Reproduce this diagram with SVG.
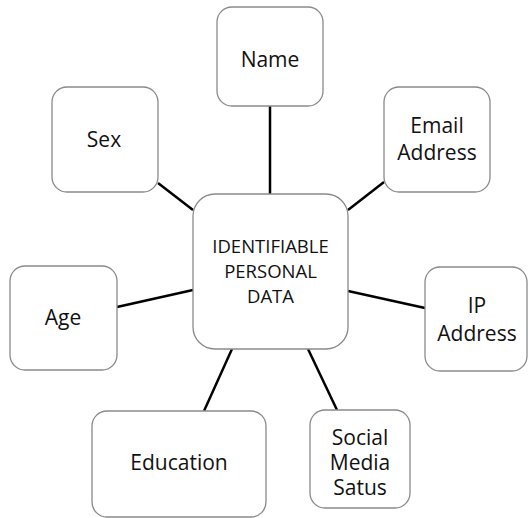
<svg xmlns="http://www.w3.org/2000/svg" width="528" height="518" viewBox="0 0 528 518">
<style>
.box{fill:#fff;stroke:#8a8a8a;stroke-width:1.3}
.t{font-family:"Open Sans",Lato,"Liberation Sans",sans-serif;font-size:21px;fill:#111;text-anchor:middle}
.tc{font-family:"Open Sans",Lato,"Liberation Sans",sans-serif;font-size:18.5px;fill:#111;text-anchor:middle}
.c{stroke:#000;stroke-width:2.5;fill:none}
</style>
<rect width="528" height="518" fill="#fff"/>
<g id="connectors">
<line class="c" x1="270" y1="106" x2="270" y2="194"/>
<line class="c" x1="384" y1="182" x2="348" y2="210"/>
<line class="c" x1="348" y1="291" x2="425" y2="308"/>
<line class="c" x1="308" y1="349" x2="337" y2="410"/>
<line class="c" x1="232" y1="349" x2="204" y2="411"/>
<line class="c" x1="117" y1="307" x2="193" y2="290"/>
<line class="c" x1="158" y1="183" x2="193" y2="210"/>
</g>
<g id="center">
<rect class="box" x="193" y="194" width="155" height="155" rx="22"/>
<text class="tc" x="270.5" y="253">IDENTIFIABLE</text>
<text class="tc" x="270.5" y="278">PERSONAL</text>
<text class="tc" x="270.5" y="303">DATA</text>
</g>
<g id="name">
<rect class="box" x="217" y="7" width="106" height="99" rx="15"/>
<text class="t" x="270" y="67">Name</text>
</g>
<g id="email">
<rect class="box" x="384" y="87" width="106" height="105" rx="15"/>
<text class="t" x="437" y="133">Email</text>
<text class="t" x="437" y="160">Address</text>
</g>
<g id="ip">
<rect class="box" x="425" y="267" width="102" height="104" rx="15"/>
<text class="t" x="477" y="313">IP</text>
<text class="t" x="477" y="341">Address</text>
</g>
<g id="social">
<rect class="box" x="310" y="410" width="100" height="98" rx="15"/>
<text class="t" x="360" y="445">Social</text>
<text class="t" x="360" y="470">Media</text>
<text class="t" x="360" y="495">Satus</text>
</g>
<g id="education">
<rect class="box" x="92" y="411" width="174" height="106" rx="15"/>
<text class="t" x="179" y="470">Education</text>
</g>
<g id="age">
<rect class="box" x="10" y="266" width="107" height="104" rx="15"/>
<text class="t" x="63" y="325">Age</text>
</g>
<g id="sex">
<rect class="box" x="52" y="87" width="106" height="105" rx="15"/>
<text class="t" x="104" y="147">Sex</text>
</g>
</svg>
